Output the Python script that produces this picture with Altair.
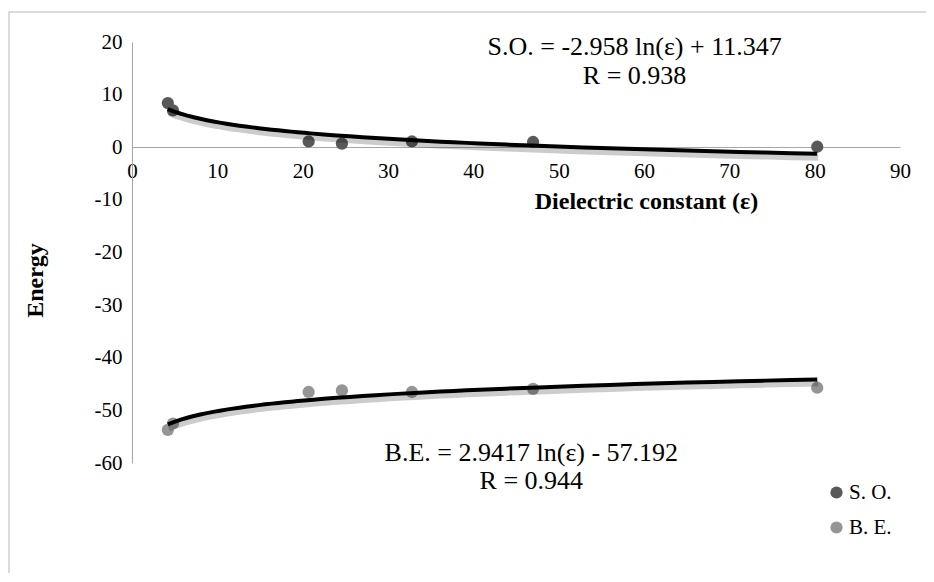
import altair as alt
import pandas as pd

# Dielectric constants (x) and energies (y)
eps = [4.2, 4.8, 20.7, 24.6, 32.8, 47.0, 80.3]
so_vals = [8.4, 7.0, 1.1, 0.7, 1.1, 1.0, 0.1]
be_vals = [-53.7, -52.5, -46.5, -46.2, -46.5, -45.9, -45.7]
series = ["S. O.", "B. E."]
colors = ["#595959", "#959595"]
x_ticks = [0, 10, 20, 30, 40, 50, 60, 70, 80, 90]
y_ticks = [-60, -50, -40, -30, -20, -10, 0, 10, 20]

ann_text = ["S.O. = -2.958 ln(ε) + 11.347", "R = 0.938",
            "B.E. = 2.9417 ln(ε) - 57.192", "R = 0.944"]
ann_x = [58.9, 58.9, 46.8, 46.8]
ann_y = [19.0, 13.5, -58.1, -63.4]

df = pd.DataFrame({
    "eps": eps + eps,
    "energy": so_vals + be_vals,
    "series": [series[0]] * len(eps) + [series[1]] * len(eps),
})
ann = pd.DataFrame({"text": ann_text, "x": ann_x, "y": ann_y})

FONT = "Liberation Serif"
xscale = alt.Scale(domain=[0, 90], nice=False)
yscale = alt.Scale(domain=[-60, 20], nice=False)

x_axis = alt.Axis(
    orient="bottom", offset=-316, values=x_ticks, grid=False, ticks=False,
    domainColor="#a6a6a6", labelFont=FONT, labelFontSize=21, labelColor="black",
    labelPadding=13, labelFlush=False, labelExpr="toString(datum.value)",
    titleFont=FONT, titleFontSize=24, titleFontWeight="bold", titleColor="black",
    titleX=514, titleY=54, titleAlign="center", titleBaseline="middle",
)
y_axis = alt.Axis(
    values=y_ticks, grid=False, ticks=False, domainColor="#a6a6a6",
    labelFont=FONT, labelFontSize=21, labelColor="black", labelPadding=10,
    labelExpr="toString(datum.value)",
    titleFont=FONT, titleFontSize=24, titleFontWeight="bold", titleColor="black",
    titleX=-97, titleY=238, titleAlign="center", titleBaseline="middle",
)

base = alt.Chart(df)

points = base.mark_circle(size=150, opacity=1).encode(
    x=alt.X("eps:Q", scale=xscale, axis=x_axis, title="Dielectric constant (ε)"),
    y=alt.Y("energy:Q", scale=yscale, axis=y_axis, title="Energy"),
    color=alt.Color(
        "series:N", scale=alt.Scale(domain=series, range=colors),
        legend=alt.Legend(
            title=None, orient="none", legendX=694, legendY=440,
            labelFont=FONT, labelFontSize=21, labelColor="black",
            symbolType="circle", symbolSize=150, symbolStrokeWidth=0,
            symbolOpacity=1, rowPadding=13, labelOffset=2,
        ),
    ),
)

trend_src = base.transform_regression(
    "eps", "energy", method="log", groupby=["series"]
)
shadow = trend_src.mark_line(
    color="black", opacity=0.2, strokeWidth=6, yOffset=4, xOffset=1
).encode(x="eps:Q", y="energy:Q", detail="series:N")
trend = trend_src.mark_line(color="black", strokeWidth=4).encode(
    x="eps:Q", y="energy:Q", detail="series:N"
)

labels = alt.Chart(ann).mark_text(
    font=FONT, fontSize=26, color="black", align="center", baseline="middle"
).encode(x=alt.X("x:Q", scale=xscale), y=alt.Y("y:Q", scale=yscale), text="text:N")

# light chart-area frame (top and left edges are visible in the reference)
frame = alt.Chart(pd.DataFrame({"f": [0]})).mark_rect(
    fill=None, stroke="#d0d0d0", strokeWidth=1.5
).encode(x=alt.value(-123), y=alt.value(-30), x2=alt.value(900), y2=alt.value(700))

chart = alt.layer(frame, points, shadow, trend, labels).properties(
    width=768, height=421,
    autosize=alt.AutoSizeParams(type="none"),
    padding={"left": 124, "top": 34, "right": 26, "bottom": 110},
    background="white",
).configure_view(stroke=None)

chart.save("out.html", embed_options={"renderer": "svg", "actions": False})
